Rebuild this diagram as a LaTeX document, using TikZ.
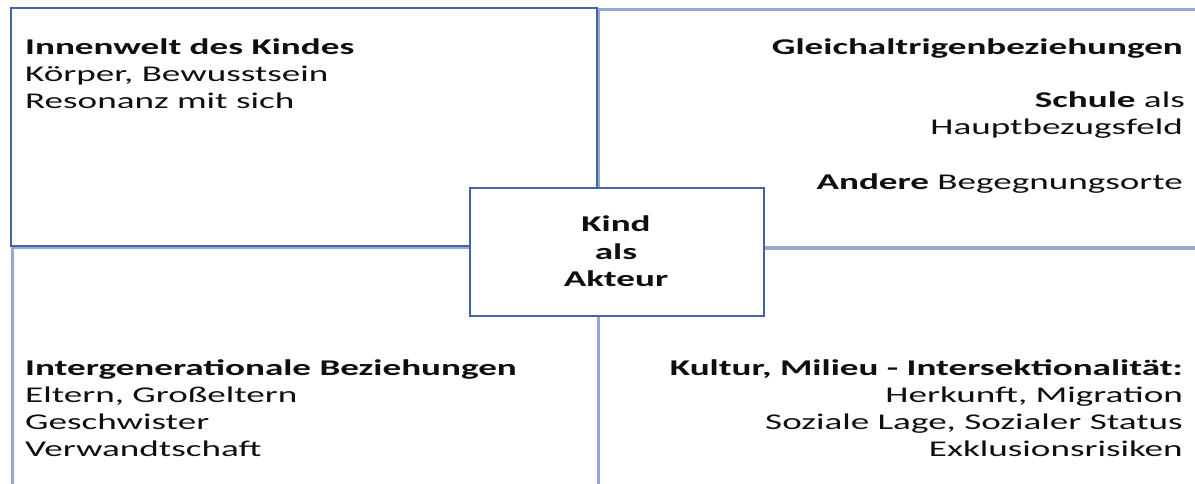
\documentclass[tikz,border=0pt]{standalone}
\usepackage{fontspec}
\setmainfont{Carlito}[FakeStretch=1.65]
\definecolor{darkline}{RGB}{68,100,168}
\definecolor{lightline}{RGB}{148,168,208}
\definecolor{txtcol}{RGB}{15,15,15}
\begin{document}
\begin{tikzpicture}[x=1pt,y=-1pt,
  txt/.style={inner sep=0pt, text=txtcol, font=\fontsize{22.5}{27}\selectfont},
  lbox/.style={draw=lightline, line width=2.8pt, inner sep=0pt, anchor=north west},
  dbox/.style={draw=darkline, line width=2pt, inner sep=0pt, anchor=north west}]
\useasboundingbox (0,0) rectangle (1195,483);
\clip (0,0) rectangle (1195,483);
% quadrants
\node[lbox, minimum width=613pt, minimum height=239pt] (tr) at (597,8) {};
\node[lbox, minimum width=586pt, minimum height=260pt] (bl) at (11,246) {};
\node[lbox, minimum width=613pt, minimum height=260pt] (br) at (597,246) {};
\node[dbox, minimum width=586pt, minimum height=238pt] (tl) at (10,7) {};
\node[dbox, fill=white, minimum width=294pt, minimum height=128pt] (center) at (469,187) {};
% top left
\node[txt, anchor=base west] (tl1) at (25,54) {\textbf{Innenwelt des Kindes}};
\node[txt, anchor=base west] (tl2) at (25,81) {Körper, Bewusstsein};
\node[txt, anchor=base west] (tl3) at (25,108) {Resonanz mit sich};
% top right
\node[txt, anchor=base east] (tr1) at (1183,54) {\textbf{Gleichaltrigenbeziehungen}};
\node[txt, anchor=base east] (tr2) at (1185,107) {\textbf{Schule} als};
\node[txt, anchor=base east] (tr3) at (1183,134) {Hauptbezugsfeld};
\node[txt, anchor=base east] (tr4) at (1183,189) {\textbf{Andere} Begegnungsorte};
% center
\node[txt, anchor=base] (c1) at (616,231) {\textbf{Kind}};
\node[txt, anchor=base] (c2) at (616,259) {\textbf{als}};
\node[txt, anchor=base] (c3) at (616,286) {\textbf{Akteur}};
% bottom left
\node[txt, anchor=base west] (bl1) at (25,375) {\textbf{Intergenerationale Beziehungen}};
\node[txt, anchor=base west] (bl2) at (25,402) {Eltern, Großeltern};
\node[txt, anchor=base west] (bl3) at (25,429) {Geschwister};
\node[txt, anchor=base west] (bl4) at (25,456) {Verwandtschaft};
% bottom right
\node[txt, anchor=base east] (br1) at (1183,375) {\textbf{Kultur, Milieu - Intersektionalität:}};
\node[txt, anchor=base east] (br2) at (1183,402) {Herkunft, Migration};
\node[txt, anchor=base east] (br3) at (1183,429) {Soziale Lage, Sozialer Status};
\node[txt, anchor=base east] (br4) at (1183,456) {Exklusionsrisiken};
\end{tikzpicture}
\end{document}
